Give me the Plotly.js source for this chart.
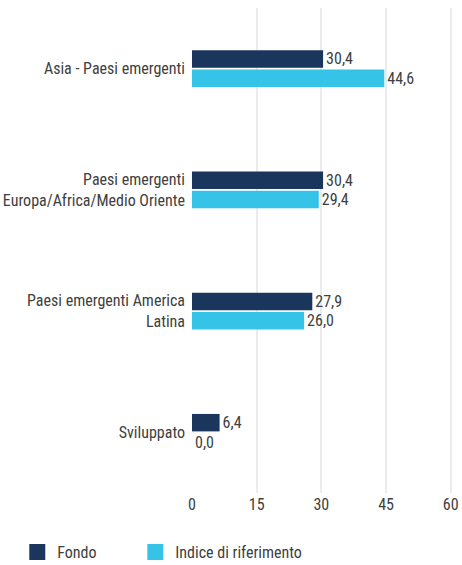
<!DOCTYPE html>
<html>
<head>
<meta charset="utf-8">
<script src="https://cdn.plot.ly/plotly-3.0.1.min.js"></script>
<style>
html,body{margin:0;padding:0;background:#fff;}
#chart{width:462px;height:565px;}
</style>
</head>
<body>
<div id="chart"></div>
<script>
var categories = ["Asia - Paesi emergenti", "Paesi emergenti<br>Europa/Africa/Medio Oriente", "Paesi emergenti America<br>Latina", "Sviluppato"];
var fondo = [30.4, 30.4, 27.9, 6.4];
var indice = [44.6, 29.4, 26.0, 0.0];
var seriesNames = ["Fondo", "Indice di riferimento"];
var seriesColors = ["#1b365d", "#35c3e8"];
var tickVals = [0, 15, 30, 45, 60];

var FONT = "'Liberation Sans Narrow', 'Roboto Condensed', Roboto, sans-serif";
var TXT = "#404040";
var legendIds = ["legend", "legend2"];

function barTrace(i, vals) {
  return {type: "bar", orientation: "h", name: seriesNames[i], y: categories, x: vals,
    marker: {color: seriesColors[i]}, texttemplate: "%{x:.1f}", textposition: "outside",
    constraintext: "none", cliponaxis: false, showlegend: false, legendgroup: "g" + i,
    textfont: {family: FONT, size: 16, color: TXT}};
}
function legendTrace(i) {
  return {type: "scatter", mode: "markers", name: seriesNames[i], x: [null], y: [null],
    legendgroup: "g" + i, legend: legendIds[i], hoverinfo: "skip",
    marker: {symbol: "square", size: 17, color: seriesColors[i]}};
}
function legendBox(xPos) {
  return {orientation: "h", x: xPos, xanchor: "left", y: -0.087, yanchor: "top",
          itemsizing: "trace", font: {family: FONT, size: 16, color: TXT}, itemwidth: 30,
          bgcolor: "rgba(0,0,0,0)"};
}

var traces = [barTrace(0, fondo), barTrace(1, indice), legendTrace(0), legendTrace(1)];

var layout = {
  width: 462, height: 565,
  margin: {l: 192, r: 10, t: 8, b: 72, autoexpand: false},
  paper_bgcolor: "#fff", plot_bgcolor: "#fff",
  separators: ",.",
  barmode: "group", bargap: 0.68, bargroupgap: 0.1,
  font: {family: FONT, size: 16, color: TXT},
  showlegend: true,
  legend: legendBox(-0.672),
  legend2: legendBox(-0.218),
  xaxis: {range: [0, 60.3], tickvals: tickVals, ticktext: tickVals.map(String),
          showgrid: true, gridcolor: "#ebebeb", gridwidth: 2, zeroline: false,
          showline: false, ticks: "", ticklen: 0, tickfont: {family: FONT, size: 16, color: TXT}},
  yaxis: {autorange: "reversed", showgrid: false, zeroline: false, showline: false,
          ticks: "", ticklabelstandoff: 6, tickfont: {family: FONT, size: 16, color: TXT}}
};

Plotly.newPlot("chart", traces, layout, {displayModeBar: false, staticPlot: true});
</script>
</body>
</html>
